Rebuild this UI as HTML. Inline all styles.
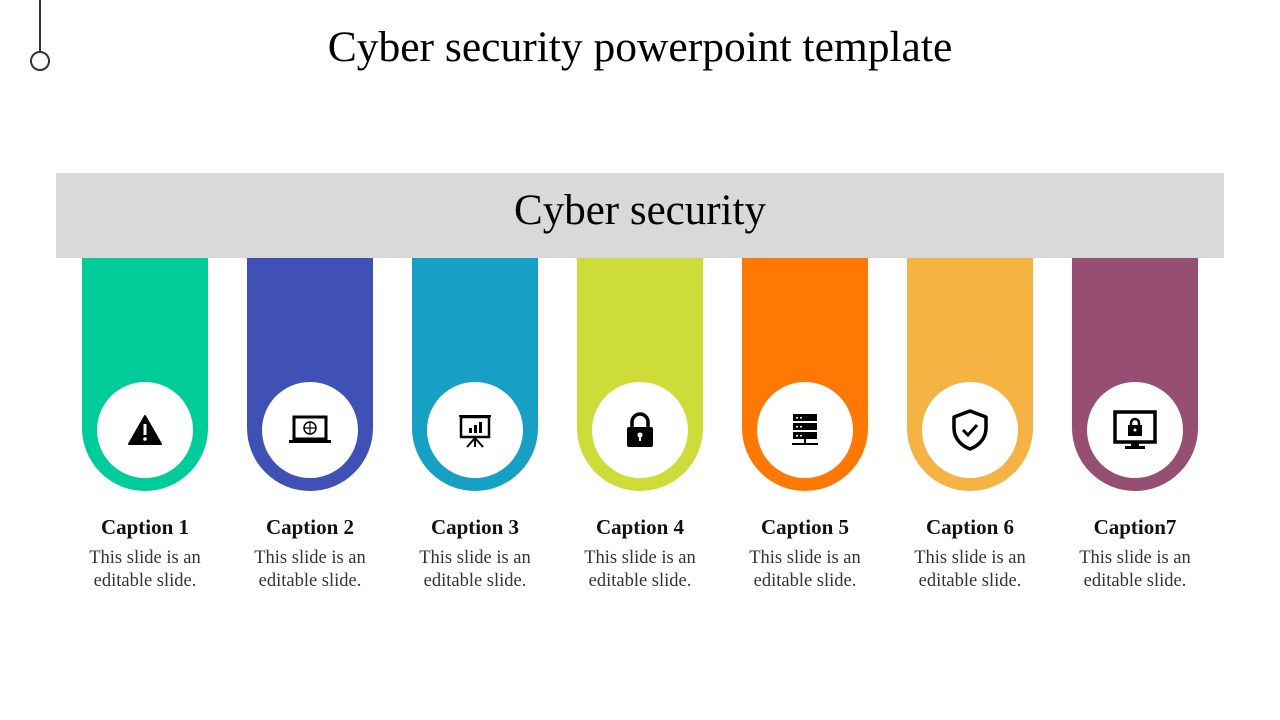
<!DOCTYPE html>
<html><head><meta charset="utf-8"><style>
body{margin:0;width:1280px;height:720px;background:#fff;position:relative;overflow:hidden;font-family:"Liberation Serif",serif}
.a{position:absolute}
.col{position:absolute;top:258px;width:126px;height:233px;border-radius:0 0 63px 63px}
.c{position:absolute;width:96px;height:96px;border-radius:50%;background:#fff;top:382px;display:flex;align-items:center;justify-content:center}
.cap{position:absolute;top:515px;width:160px;text-align:center;font-weight:bold;font-size:21px;color:#111}
.txt{position:absolute;top:547px;width:160px;text-align:center;font-size:18.5px;line-height:23px;color:#333}
</style></head><body>
<div class="a" style="left:39px;top:0;width:2px;height:52px;background:#333"></div>
<div class="a" style="left:30px;top:51px;width:16px;height:16px;border:2px solid #333;border-radius:50%"></div>
<div class="a" style="left:0;width:1280px;top:22px;text-align:center;font-size:43.5px;color:#000">Cyber security powerpoint template</div>
<div class="a" style="left:56px;top:173px;width:1168px;height:85px;background:#d9d9d9;text-align:center;font-size:43px;line-height:76px;color:#000">Cyber security</div>

<div class="col" style="left:82px;background:#00cc99"></div>
<div class="col" style="left:247px;background:#3f51b5"></div>
<div class="col" style="left:412px;background:#16a1c4"></div>
<div class="col" style="left:577px;background:#cddc39"></div>
<div class="col" style="left:742px;background:#ff7803"></div>
<div class="col" style="left:907px;background:#f4b342"></div>
<div class="col" style="left:1072px;background:#964f72"></div>

<div class="c" style="left:97px"><svg width="36" height="32" viewBox="0 0 36 32"><path d="M18 2 L34 30 L2 30 Z" fill="#000" stroke="#000" stroke-linejoin="round" stroke-width="2"/><rect x="16.5" y="10" width="3" height="11" fill="#fff"/><circle cx="18" cy="25" r="1.8" fill="#fff"/></svg></div>
<div class="c" style="left:262px"><svg width="44" height="32" viewBox="0 0 44 32"><rect x="6" y="3" width="32" height="22" fill="none" stroke="#000" stroke-width="3"/><rect x="1" y="26" width="42" height="3" fill="#000"/><circle cx="22" cy="14" r="6" fill="none" stroke="#000" stroke-width="1.5"/><path d="M16 14h12M22 8v12" stroke="#000" stroke-width="1.2"/></svg></div>
<div class="c" style="left:427px"><svg width="36" height="36" viewBox="0 0 36 36"><rect x="2" y="3" width="32" height="2" fill="#000"/><rect x="4" y="5" width="28" height="20" fill="none" stroke="#000" stroke-width="2.5"/><rect x="12" y="16" width="3" height="5" fill="#000"/><rect x="17" y="13" width="3" height="8" fill="#000"/><rect x="22" y="10" width="3" height="11" fill="#000"/><path d="M18 25v10M18 26l-8 9M18 26l8 9" stroke="#000" stroke-width="2"/></svg></div>
<div class="c" style="left:592px"><svg width="30" height="36" viewBox="0 0 30 36"><path d="M7 16v-6a8 8 0 0 1 16 0v6" fill="none" stroke="#000" stroke-width="3.5"/><rect x="2" y="15" width="26" height="20" rx="2" fill="#000"/><circle cx="15" cy="23" r="2.5" fill="#fff"/><rect x="14" y="23" width="2" height="6" fill="#fff"/></svg></div>
<div class="c" style="left:757px"><svg width="30" height="34" viewBox="0 0 30 34"><rect x="3" y="1" width="24" height="7" fill="#000"/><rect x="3" y="10" width="24" height="7" fill="#000"/><rect x="3" y="19" width="24" height="7" fill="#000"/><rect x="14" y="26" width="2" height="4" fill="#000"/><rect x="2" y="30" width="26" height="2" fill="#000"/><g fill="#fff"><rect x="6" y="4" width="2" height="1.5"/><rect x="10" y="4" width="2" height="1.5"/><rect x="6" y="13" width="2" height="1.5"/><rect x="10" y="13" width="2" height="1.5"/><rect x="6" y="22" width="2" height="1.5"/><rect x="10" y="22" width="2" height="1.5"/></g></svg></div>
<div class="c" style="left:922px"><svg width="40" height="44" viewBox="0 0 40 44"><path d="M20 3 L36 9 V20 C36 31 28 38 20 41 C12 38 4 31 4 20 V9 Z" fill="none" stroke="#000" stroke-width="3.5" stroke-linejoin="round"/><path d="M13 22 l5 5 l9 -10" fill="none" stroke="#000" stroke-width="3"/></svg></div>
<div class="c" style="left:1087px"><svg width="46" height="42" viewBox="0 0 46 42"><rect x="3" y="3" width="40" height="30" fill="none" stroke="#000" stroke-width="3.5"/><rect x="19" y="33" width="8" height="5" fill="#000"/><rect x="13" y="37" width="20" height="3" fill="#000"/><path d="M19 17v-3a4 4 0 0 1 8 0v3" fill="none" stroke="#000" stroke-width="2.5"/><rect x="16" y="16" width="14" height="11" fill="#000"/><circle cx="23" cy="21" r="1.5" fill="#fff"/></svg></div>

<div class="cap" style="left:65px">Caption 1</div>
<div class="cap" style="left:230px">Caption 2</div>
<div class="cap" style="left:395px">Caption 3</div>
<div class="cap" style="left:560px">Caption 4</div>
<div class="cap" style="left:725px">Caption 5</div>
<div class="cap" style="left:890px">Caption 6</div>
<div class="cap" style="left:1055px">Caption7</div>

<div class="txt" style="left:65px">This slide is an<br>editable slide.</div>
<div class="txt" style="left:230px">This slide is an<br>editable slide.</div>
<div class="txt" style="left:395px">This slide is an<br>editable slide.</div>
<div class="txt" style="left:560px">This slide is an<br>editable slide.</div>
<div class="txt" style="left:725px">This slide is an<br>editable slide.</div>
<div class="txt" style="left:890px">This slide is an<br>editable slide.</div>
<div class="txt" style="left:1055px">This slide is an<br>editable slide.</div>
</body></html>
